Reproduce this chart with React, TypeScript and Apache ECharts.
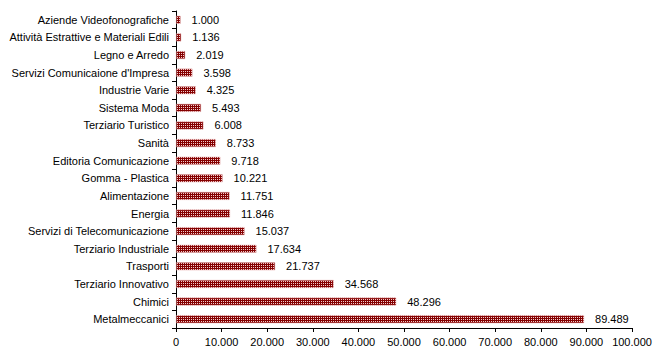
import React, { useEffect, useRef } from "react";
import * as echarts from "echarts";

const categories = [
  "Aziende Videofonografiche",
  "Attività Estrattive e Materiali Edili",
  "Legno e Arredo",
  "Servizi Comunicaione d'Impresa",
  "Industrie Varie",
  "Sistema Moda",
  "Terziario Turistico",
  "Sanità",
  "Editoria Comunicazione",
  "Gomma - Plastica",
  "Alimentazione",
  "Energia",
  "Servizi di Telecomunicazione",
  "Terziario Industriale",
  "Trasporti",
  "Terziario Innovativo",
  "Chimici",
  "Metalmeccanici",
];

const values = [
  1000, 1136, 2019, 3598, 4325, 5493, 6008, 8733, 9718, 10221, 11751, 11846,
  15037, 17634, 21737, 34568, 48296, 89489,
];

const fmt = (v: number) => {
  const s = Math.round(v).toString();
  return s.replace(/\B(?=(\d{3})+(?!\d))/g, ".");
};

function makePattern(): string {
  const c = document.createElement("canvas");
  c.width = 2;
  c.height = 2;
  const ctx = c.getContext("2d")!;
  ctx.fillStyle = "#850000";
  ctx.fillRect(0, 0, 2, 2);
  ctx.fillStyle = "#f2cccc";
  ctx.fillRect(1, 1, 1, 1);
  return c.toDataURL();
}

export default function App() {
  const ref = useRef<HTMLDivElement>(null);
  useEffect(() => {
    if (!ref.current) return;
    const chart = echarts.init(ref.current, null, { renderer: "svg" });
    const font = "'Liberation Sans', Arial, sans-serif";
    chart.setOption({
      animation: false,
      backgroundColor: "#ffffff",
      grid: { left: 176, right: 31, top: 11, bottom: 30, containLabel: false },
      xAxis: {
        type: "value",
        min: 0,
        max: 100000,
        interval: 10000,
        splitLine: { show: false },
        axisLine: { show: true, lineStyle: { color: "#000", width: 1 } },
        axisTick: { show: true, length: 4, lineStyle: { color: "#000" } },
        axisLabel: {
          color: "#000",
          fontFamily: font,
          fontSize: 11,
          margin: 8,
          formatter: (v: number) => fmt(v),
        },
      },
      yAxis: {
        type: "category",
        data: categories,
        inverse: true,
        axisLine: { show: true, lineStyle: { color: "#000", width: 1 } },
        axisTick: { show: true, length: 4, lineStyle: { color: "#000" } },
        axisLabel: { color: "#000", fontFamily: font, fontSize: 11, margin: 7 },
      },
      series: [
        {
          type: "bar",
          data: values,
          barWidth: 8,
          itemStyle: {
            color: { image: makePattern(), repeat: "repeat" },
            borderColor: "#e8b4b4",
            borderWidth: 0.5,
          },
          label: {
            show: true,
            position: "right",
            distance: 11,
            color: "#000",
            fontFamily: font,
            fontSize: 11,
            formatter: (p: any) => fmt(p.value),
          },
        },
      ],
    });
    return () => chart.dispose();
  }, []);
  return <div ref={ref} style={{ width: 663, height: 358, margin: -8 }} />;
}
